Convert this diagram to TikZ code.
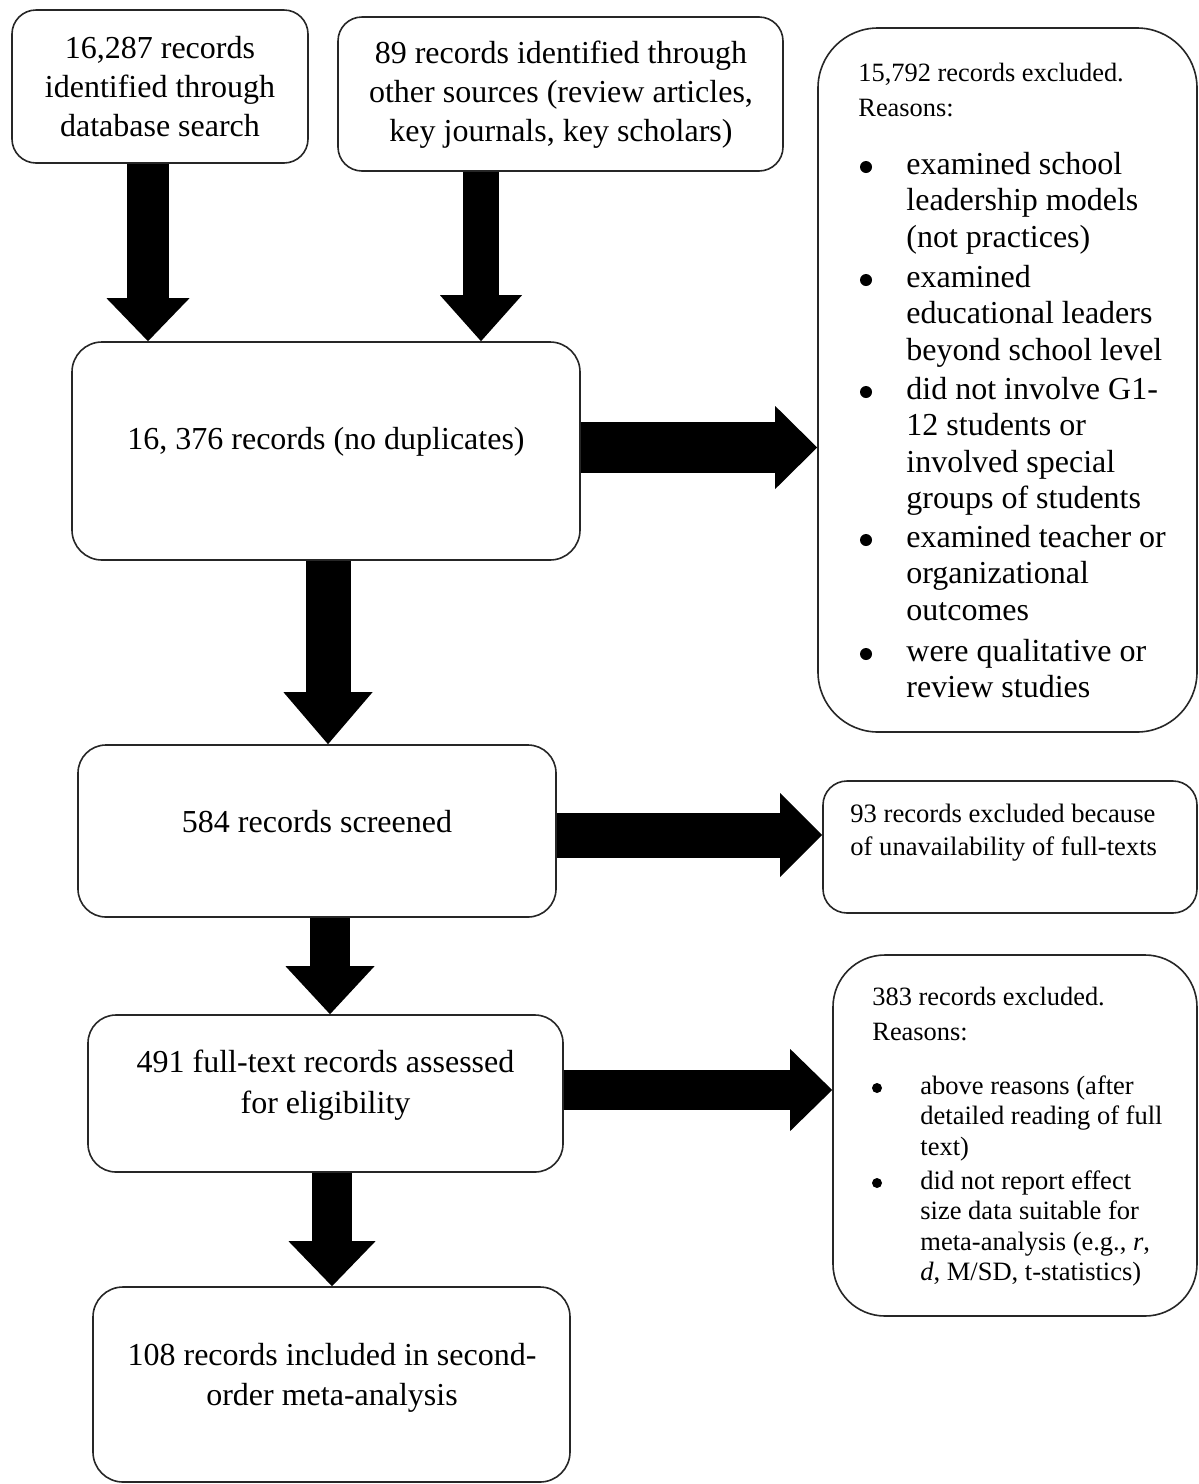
\documentclass[tikz,border=0pt]{standalone}
\usepackage{fontspec}
\setmainfont{Liberation Serif}
\usetikzlibrary{arrows.meta}
\begin{document}
\begin{tikzpicture}[x=0.5pt,y=-0.5pt,
  box/.style={draw=black!85, line width=0.8pt, rounded corners=#1, inner sep=0pt},
  box/.default=12pt,
  txt/.style={inner sep=0pt, align=center, font=\fontsize{16}{19.5}\selectfont},
  ltxt/.style={inner sep=0pt, align=left, anchor=base west},
  bul/.style={circle, fill=black, inner sep=0pt, minimum size=#1},
  bul/.default=6pt,
  blk/.style n args={3}{line width=#1, -{Triangle[width=#2,length=#3,line width=0pt]}},
]
\useasboundingbox (0,0) rectangle (1199,1484);

% boxes
\node[box=12pt, minimum width=148pt, minimum height=76.5pt] (a) at (160,86.5) {};
\node[box=12pt, minimum width=222.5pt, minimum height=77pt] (b) at (560.5,94) {};
\node[box=15pt, minimum width=254pt, minimum height=109pt] (c) at (326,451) {};
\node[box=30pt, minimum width=189.5pt, minimum height=352pt] (d) at (1007.5,380) {};
\node[box=14pt, minimum width=239pt, minimum height=86pt] (e) at (317,831) {};
\node[box=12pt, minimum width=187pt, minimum height=66pt] (f) at (1010,847) {};
\node[box=14pt, minimum width=237.5pt, minimum height=78.5pt] (g) at (325.5,1093.5) {};
\node[box=26pt, minimum width=182pt, minimum height=180.5pt] (h) at (1015,1135.5) {};
\node[box=15pt, minimum width=238.5pt, minimum height=97.5pt] (i) at (331.5,1384.5) {};

% centred texts
\node[txt] (at) at (160,87) {16,287 records\\identified through\\database search};
\node[txt] (bt) at (561,95) {89 records identified through\\other sources (review articles,\\key journals, key scholars)};
\node[txt] (ct) at (326,442) {16, 376 records (no duplicates)};
\node[txt] (et) at (317,822) {584 records screened};
\node[txt, font=\fontsize{16}{20.5}\selectfont] (gt) at (325.5,1085) {491 full-text records assessed\\for eligibility};
\node[txt, font=\fontsize{16}{20}\selectfont] (it) at (332,1378) {108 records included in second-\\order meta-analysis};

% box d text (anchor = baseline of last line)
\node[ltxt, font=\fontsize{13.2}{17.5}\selectfont] (dh) at (858,116) {15,792 records excluded.\\Reasons:};
\begin{scope}[every node/.append style={font=\fontsize{16}{18.25}\selectfont}]
\node[bul] (d1b) at (866,167) {};
\node[ltxt] (d1) at (906,247) {examined school\\leadership models\\(not practices)};
\node[bul] (d2b) at (866,280) {};
\node[ltxt] (d2) at (906,360) {examined\\educational leaders\\beyond school level};
\node[bul] (d3b) at (866,392) {};
\node[ltxt] (d3) at (906,508.5) {did not involve G1-\\12 students or\\involved special\\groups of students};
\node[bul] (d4b) at (866,540) {};
\node[ltxt] (d4) at (906,620) {examined teacher or\\organizational\\outcomes};
\node[bul] (d5b) at (866,654) {};
\node[ltxt] (d5) at (906,697.5) {were qualitative or\\review studies};
\end{scope}

% box f text
\node[ltxt, font=\fontsize{13.3}{16.5}\selectfont] (ft) at (850,855) {93 records excluded because\\of unavailability of full-texts};

% box h text
\node[ltxt, font=\fontsize{13.2}{17.5}\selectfont] (hh) at (872,1040) {383 records excluded.\\Reasons:};
\begin{scope}[every node/.append style={font=\fontsize{13.25}{15.25}\selectfont}]
\node[bul=5pt] (h1b) at (877,1088) {};
\node[ltxt] (h1) at (920,1155) {above reasons (after\\detailed reading of full\\text)};
\node[bul=5pt] (h2b) at (877,1183) {};
\node[ltxt] (h2) at (920,1280.5) {did not report effect\\size data suitable for\\meta-analysis (e.g., \textit{r},\\\textit{d}, M/SD, t-statistics)};
\end{scope}

% arrows
\coordinate (a1) at ([xshift=-6pt]a.south);
\draw[blk={21pt}{41.5pt}{21.5pt}] (a1) -- (a1 |- c.north);
\coordinate (b1) at ([xshift=-39.75pt]b.south);
\draw[blk={18pt}{41pt}{23pt}] (b1) -- (b1 |- c.north);
\coordinate (c1) at ([yshift=1.75pt]c.east);
\draw[blk={25.5pt}{41.5pt}{21pt}] (c1) -- (c1 -| d.west);
\coordinate (c2) at ([xshift=1pt]c.south);
\draw[blk={22.5pt}{44.5pt}{26pt}] (c2) -- (c2 |- e.north);
\coordinate (e1) at ([yshift=-2pt]e.east);
\draw[blk={22.5pt}{42pt}{21pt}] (e1) -- (e1 -| f.west);
\coordinate (e2) at ([xshift=6.5pt]e.south);
\draw[blk={20pt}{44.5pt}{24pt}] (e2) -- (e2 |- g.north);
\coordinate (g1) at ([yshift=1.75pt]g.east);
\draw[blk={20pt}{41pt}{21pt}] (g1) -- (g1 -| h.west);
\coordinate (g2) at ([xshift=3.25pt]g.south);
\draw[blk={20pt}{43.5pt}{22.5pt}] (g2) -- (g2 |- i.north);
\end{tikzpicture}
\end{document}
